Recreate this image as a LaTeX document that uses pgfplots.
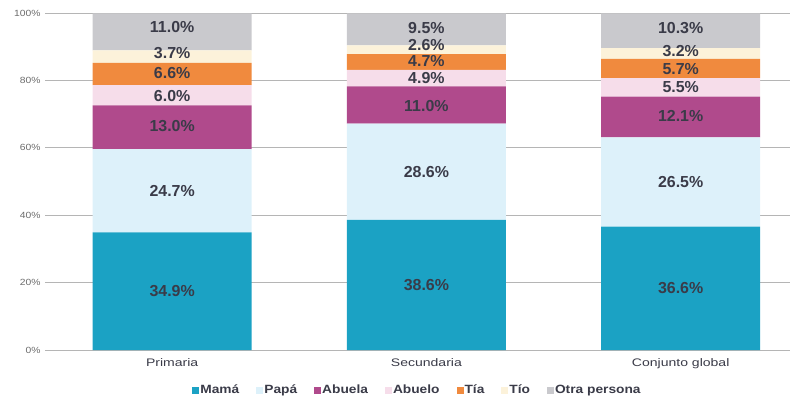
\documentclass[border=0pt]{standalone}
\usepackage{pgfplots}
\pgfplotsset{compat=1.18}
\usepackage{fontspec}
\setmainfont{Liberation Sans}
\newfontfamily\catfont[FakeStretch=1.28]{Liberation Sans}
\newfontfamily\legfont[FakeStretch=1.15]{Liberation Sans}
\newfontfamily\tickfont[FakeStretch=1.15]{Liberation Sans}
\definecolor{cMama}{HTML}{1BA2C4}
\definecolor{cPapa}{HTML}{DDF1FA}
\definecolor{cAbuela}{HTML}{B04A8C}
\definecolor{cAbuelo}{HTML}{F6DDEA}
\definecolor{cTia}{HTML}{F08A3E}
\definecolor{cTio}{HTML}{FCF2DA}
\definecolor{cOtra}{HTML}{C9C9CD}
\definecolor{cText}{HTML}{3A3B48}
\definecolor{cGrid}{HTML}{B5B5B5}
\begin{document}
\begin{tikzpicture}
\begin{axis}[
  scale only axis, width=745bp, height=337bp,
  ybar stacked, bar width=159bp,
  xmin=-0.5, xmax=2.43, ymin=0, ymax=100,
  xtick={0,1,2}, xticklabels={Primaria,Secundaria,Conjunto global},
  ytick={0,20,...,100},
  yticklabel={\pgfmathprintnumber{\tick}\%},
  /pgf/number format/assume math mode=true,
  ymajorgrids, grid style={cGrid, line width=0.6pt},
  axis x line*=bottom, axis y line*=left,
  y axis line style={draw=none},
  x axis line style={cGrid, line width=0.6pt, -},
  major tick length=0pt,
  yticklabel style={text=gray!85!black, font=\tickfont\fontsize{9}{9}\selectfont, xshift=-1bp},
  xticklabel style={text=cText, font=\catfont\fontsize{11}{12}\selectfont, yshift=-5bp},
  legend style={at={(0.5,-0.119)}, anchor=center, legend columns=-1, draw=none,
    font=\legfont\bfseries\fontsize{12}{13}\selectfont, text=cText,
    /tikz/every even column/.append style={column sep=15bp},
    /tikz/every odd column/.append style={column sep=-1bp}},
  legend image code/.code={\fill[#1,draw=none] (0bp,-3.5bp) rectangle (7bp,3.5bp);},
]
\addplot[fill=cMama, draw=none] coordinates {(0,34.9) (1,38.6) (2,36.6)};
\addplot[fill=cPapa, draw=none] coordinates {(0,24.7) (1,28.6) (2,26.5)};
\addplot[fill=cAbuela, draw=none] coordinates {(0,13.0) (1,11.0) (2,12.1)};
\addplot[fill=cAbuelo, draw=none] coordinates {(0,6.0) (1,4.9) (2,5.5)};
\addplot[fill=cTia, draw=none] coordinates {(0,6.6) (1,4.7) (2,5.7)};
\addplot[fill=cTio, draw=none] coordinates {(0,3.7) (1,2.6) (2,3.2)};
\addplot[fill=cOtra, draw=none] coordinates {(0,11.0) (1,9.5) (2,10.3)};
\legend{Mamá,Papá,Abuela,Abuelo,Tía,Tío,Otra persona}
\end{axis}
\begin{axis}[
  scale only axis, width=745bp, height=337bp,
  xmin=-0.5, xmax=2.43, ymin=0, ymax=100, hide axis,
  /pgf/number format/assume math mode=true,
]
\addplot[draw=none, mark=none, point meta=explicit,
  nodes near coords={\pgfmathprintnumber[fixed,fixed zerofill,precision=1]{\pgfplotspointmeta}\%},
  nodes near coords style={anchor=center, inner sep=0pt, text=cText, font=\bfseries\fontsize{16}{16}\selectfont}]
  table[meta=v] {
x y v
0 17.45 34.9
0 47.25 24.7
0 66.6 13.0
0 75.5 6.0
0 82.1 6.6
0 88.1 3.7
0 95.9 11.0
1 19.3 38.6
1 52.9 28.6
1 72.5 11.0
1 80.6 4.9
1 85.8 4.7
1 90.5 2.6
1 95.5 9.5
2 18.3 36.6
2 49.85 26.5
2 69.3 12.1
2 77.9 5.5
2 83.5 5.7
2 88.7 3.2
2 95.6 10.3
};
\end{axis}
\pgfresetboundingbox
\useasboundingbox (-45bp,-54bp) rectangle (749bp,350bp);
\end{tikzpicture}
\end{document}
